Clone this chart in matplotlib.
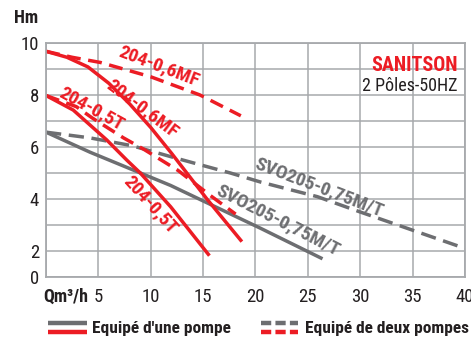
import matplotlib.pyplot as plt
from matplotlib.lines import Line2D

# pump curves: flow Q (m3/h) vs head H (m)
q_6mf_one = [0, 2, 4, 6, 8, 10, 12, 15.4, 18.7]
h_6mf_one = [9.68, 9.45, 9.08, 8.45, 7.65, 6.75, 5.75, 3.98, 2.36]
q_6mf_two = [0, 2.5, 5.2, 10.0, 14.7, 18.6]
h_6mf_two = [9.68, 9.45, 9.25, 8.7, 8.0, 7.2]

q_5t_one = [0, 2.6, 5.8, 7.7, 9.0, 11.9, 15.6]
h_5t_one = [7.98, 7.42, 6.27, 5.5, 5.0, 3.7, 1.82]
q_5t_two = [0, 2.9, 4.4, 7.4, 9.3, 12.6, 15.7, 18.1]
h_5t_two = [7.98, 7.55, 7.12, 6.35, 5.92, 5.1, 4.13, 3.42]

q_sv_one = [0, 4.2, 11.9, 20.5, 26.4]
h_sv_one = [6.57, 5.8, 4.52, 2.87, 1.7]
q_sv_two = [0, 4.2, 8.2, 12.6, 17.6, 20.5, 25.9, 30.0, 40.0]
h_sv_two = [6.57, 6.35, 6.05, 5.55, 5.0, 4.65, 4.09, 3.5, 2.1]

x_ticks = [0, 5, 10, 15, 20, 25, 30, 35, 40]
x_tick_labels = ["", "5", "10", "15", "20", "25", "30", "35", "40"]
y_ticks = [1, 2, 4, 6, 8, 10]
y_tick_labels = ["0", "2", "4", "6", "8", "10"]

RED = "#ec1c24"
GRAY = "#6d6e71"
GRID = "#a7a9ac"
INK = "#231f20"
COND = ["Roboto Condensed", "Barlow Semi Condensed", "DejaVu Sans"]

fig = plt.figure(figsize=(4.71, 3.38), dpi=100)
ax = fig.add_axes([0.0977, 0.1805, 0.8895, 0.6923])

ax.set_xlim(0, 40)
ax.set_ylim(1, 10)
ax.set_xticks(x_ticks)
ax.set_xticklabels(x_tick_labels)
ax.set_yticks(y_ticks)
ax.set_yticklabels(y_tick_labels)
ax.set_yticks(range(1, 11), minor=True)
ax.grid(True, which="both", color=GRID, lw=1.1)
ax.tick_params(which="both", length=0)
ax.tick_params(axis="x", pad=8)
ax.tick_params(axis="y", pad=5)
for lab in ax.get_xticklabels() + ax.get_yticklabels():
    lab.set_family(COND)
    lab.set_fontsize(13.5)
    lab.set_color(INK)
for sp in ax.spines.values():
    sp.set_color(GRID)
    sp.set_linewidth(1.3)
ax.set_axisbelow(True)

lw = 2.5
dash = (0, (4, 2.2))
ax.plot(q_sv_one, h_sv_one, color=GRAY, lw=lw, solid_capstyle="butt")
ax.plot(q_sv_two, h_sv_two, color=GRAY, lw=lw, ls=(0, (4.4, 2.2)))
ax.plot(q_5t_one, h_5t_one, color=RED, lw=lw, solid_capstyle="butt")
ax.plot(q_5t_two, h_5t_two, color=RED, lw=lw, ls=dash)
ax.plot(q_6mf_one, h_6mf_one, color=RED, lw=lw, solid_capstyle="butt")
ax.plot(q_6mf_two, h_6mf_two, color=RED, lw=lw, ls=dash)

lbl = dict(family=COND, fontweight="bold", fontsize=14,
           ha="center", va="center", rotation_mode="anchor")
ax.text(10.8, 9.12, "204-0,6MF", color=RED, rotation=-21, **lbl)
ax.text(9.2, 7.47, "204-0,6MF", color=RED, rotation=-37, **lbl)
ax.text(4.4, 7.47, "204-0,5T", color=RED, rotation=-29, **lbl)
ax.text(10.0, 3.78, "204-0,5T", color=RED, rotation=-48, **lbl)
ax.text(26.1, 4.45, "SVO205-0,75M/T", color=GRAY, rotation=-21, **lbl)
ax.text(22.1, 3.17, "SVO205-0,75M/T", color=GRAY, rotation=-27, **lbl)

ax.text(0.982, 0.905, "SANITSON", transform=ax.transAxes, color=RED,
        family=COND, fontweight="bold", fontsize=14.5, ha="right", va="center")
ax.text(0.982, 0.815, "2 Pôles-50HZ", transform=ax.transAxes, color=INK,
        family=COND, fontsize=13, ha="right", va="center")

W, H = 471, 338
fig.text(14 / W, 1 - 18 / H, "Hm", family=COND, fontweight="bold",
         fontsize=13, ha="left", va="center", color=INK)
fig.text(43 / W, 1 - 297 / H, "Qm³/h", family=COND, fontweight="bold",
         fontsize=13, ha="left", va="center", color=INK)


# legend drawn by hand: stacked gray/red strokes
def legend_stroke(x0, x1, y, color, style):
    fig.add_artist(Line2D([x0 / W, x1 / W], [1 - y / H, 1 - y / H],
                          transform=fig.transFigure, color=color, lw=3.2,
                          ls=style, solid_capstyle="butt", dash_capstyle="butt"))


legend_stroke(48, 87, 323, GRAY, "-")
legend_stroke(48, 87, 332, RED, "-")
legend_stroke(261, 298, 323, GRAY, (0, (2.3, 0.95)))
legend_stroke(261, 298, 332, RED, (0, (2.3, 0.95)))
fig.text(92 / W, 1 - 328 / H, "Equipé d'une pompe", family=COND,
         fontweight="bold", fontsize=12.5, ha="left", va="center", color=INK)
fig.text(305 / W, 1 - 328 / H, "Equipé de deux pompes", family=COND,
         fontweight="bold", fontsize=12.5, ha="left", va="center", color=INK)

fig.savefig("out.png", dpi=100)
